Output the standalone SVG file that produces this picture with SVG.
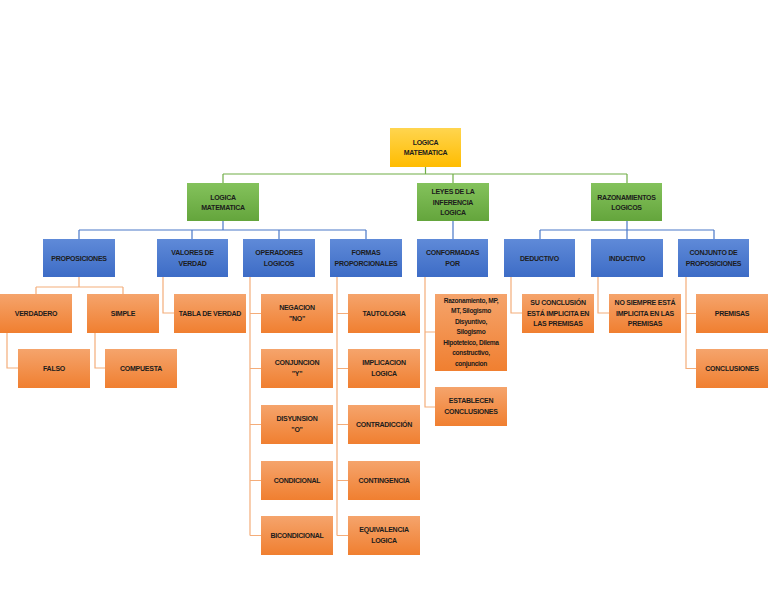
<svg xmlns="http://www.w3.org/2000/svg" width="768" height="594" viewBox="0 0 768 594">
<defs>
<linearGradient id="gGold" x1="0" y1="0" x2="0" y2="1"><stop offset="0" stop-color="#ffd54f"/><stop offset="1" stop-color="#ffbc00"/></linearGradient>
<linearGradient id="gGreen" x1="0" y1="0" x2="0" y2="1"><stop offset="0" stop-color="#84c25c"/><stop offset="1" stop-color="#64a53c"/></linearGradient>
<linearGradient id="gBlue" x1="0" y1="0" x2="0" y2="1"><stop offset="0" stop-color="#5f8ad8"/><stop offset="1" stop-color="#3d6cc6"/></linearGradient>
<linearGradient id="gOrange" x1="0" y1="0" x2="0" y2="1"><stop offset="0" stop-color="#f5a46c"/><stop offset="1" stop-color="#f07f30"/></linearGradient>
<style>
.gold{fill:url(#gGold)}
.green{fill:url(#gGreen)}
.blue{fill:url(#gBlue)}
.orange{fill:url(#gOrange)}
text{font-family:"Liberation Sans","DejaVu Sans",sans-serif;font-weight:bold;font-size:7px;fill:#1c1c1c;text-anchor:middle;letter-spacing:-0.25px}
text.sm{font-size:6.6px;letter-spacing:-0.3px}
.cg{stroke:#70ad47;stroke-width:1.2;fill:none}
.cb{stroke:#4a78c8;stroke-width:1.2;fill:none}
.co{stroke:#f4ad7a;stroke-width:1.2;fill:none}
</style>
</defs>
<rect width="768" height="594" fill="#ffffff"/>
<g id="connectors">
<path class="cg" d="M425.5 167V174M223 174H627M223 174V183M453 174V183M627 174V183"/>
<path class="cb" d="M223 221V230M79 230H366M79 230V239M192 230V239M279 230V239M366 230V239M453 221V239M627 221V230M540 230H714M540 230V239M627 230V239M714 230V239"/>
<path class="co" d="M79 277V287M36 287H123M36 287V294M123 287V294M7 333V368H18M95 333V368H105M163 277V313H174M250 277V535.5M250 313.5H261M250 368.5H261M250 424.5H261M250 480.5H261M250 535.5H261M337 277V535.5M337 313.5H348M337 368.5H348M337 424.5H348M337 480.5H348M337 535.5H348M425 277V407H435M425 332H435M511 277V313H522M598 277V313H609M686 277V368.5H696M686 313.5H696"/>
</g>
<g id="root"><rect class="gold" x="390" y="128" width="71" height="39"/><text x="425.5" y="145">LOGICA</text><text x="425.5" y="155">MATEMATICA</text></g>
<g id="logica-matematica"><rect class="green" x="187" y="183" width="72" height="38"/><text x="223" y="199.5">LOGICA</text><text x="223" y="210">MATEMATICA</text></g>
<g id="leyes"><rect class="green" x="417" y="183" width="72" height="38"/><text x="453" y="194">LEYES DE LA</text><text x="453" y="204.5">INFERENCIA</text><text x="453" y="215">LOGICA</text></g>
<g id="razonamientos"><rect class="green" x="591" y="183" width="71" height="38"/><text x="626.5" y="199.5">RAZONAMIENTOS</text><text x="626.5" y="210">LOGICOS</text></g>
<g id="proposiciones"><rect class="blue" x="43" y="239" width="72" height="38"/><text x="79" y="260.5">PROPOSICIONES</text></g>
<g id="valores"><rect class="blue" x="157" y="239" width="71" height="38"/><text x="192.5" y="255">VALORES DE</text><text x="192.5" y="265.5">VERDAD</text></g>
<g id="operadores"><rect class="blue" x="243" y="239" width="72" height="38"/><text x="279" y="255">OPERADORES</text><text x="279" y="265.5">LOGICOS</text></g>
<g id="formas"><rect class="blue" x="330" y="239" width="72" height="38"/><text x="366" y="255">FORMAS</text><text x="366" y="265.5">PROPORCIONALES</text></g>
<g id="conformadas"><rect class="blue" x="417" y="239" width="71" height="38"/><text x="452.5" y="255">CONFORMADAS</text><text x="452.5" y="265.5">POR</text></g>
<g id="deductivo"><rect class="blue" x="504" y="239" width="71" height="38"/><text x="539.5" y="260.5">DEDUCTIVO</text></g>
<g id="inductivo"><rect class="blue" x="591" y="239" width="72" height="38"/><text x="627" y="260.5">INDUCTIVO</text></g>
<g id="conjunto"><rect class="blue" x="678" y="239" width="71" height="38"/><text x="713.5" y="255">CONJUNTO DE</text><text x="713.5" y="265.5">PROPOSICIONES</text></g>
<g id="verdadero"><rect class="orange" x="0" y="294" width="72" height="39"/><text x="36" y="316">VERDADERO</text></g>
<g id="simple"><rect class="orange" x="87" y="294" width="72" height="39"/><text x="123" y="316">SIMPLE</text></g>
<g id="falso"><rect class="orange" x="18" y="349" width="72" height="39"/><text x="54" y="371">FALSO</text></g>
<g id="compuesta"><rect class="orange" x="105" y="349" width="72" height="39"/><text x="141" y="371">COMPUESTA</text></g>
<g id="tabla"><rect class="orange" x="174" y="294" width="72" height="39"/><text x="210" y="316">TABLA DE VERDAD</text></g>
<g id="negacion"><rect class="orange" x="261" y="294" width="72" height="39"/><text x="297" y="310">NEGACION</text><text x="297" y="321">"NO"</text></g>
<g id="conjuncion"><rect class="orange" x="261" y="349" width="72" height="39"/><text x="297" y="365">CONJUNCION</text><text x="297" y="376">"Y"</text></g>
<g id="disyunsion"><rect class="orange" x="261" y="405" width="72" height="39"/><text x="297" y="421">DISYUNSION</text><text x="297" y="432">"O"</text></g>
<g id="condicional"><rect class="orange" x="261" y="461" width="72" height="39"/><text x="297" y="483">CONDICIONAL</text></g>
<g id="bicondicional"><rect class="orange" x="261" y="516" width="72" height="39"/><text x="297" y="538">BICONDICIONAL</text></g>
<g id="tautologia"><rect class="orange" x="348" y="294" width="72" height="39"/><text x="384" y="316">TAUTOLOGIA</text></g>
<g id="implicacion"><rect class="orange" x="348" y="349" width="72" height="39"/><text x="384" y="365">IMPLICACION</text><text x="384" y="376">LOGICA</text></g>
<g id="contradiccion"><rect class="orange" x="348" y="405" width="72" height="39"/><text x="384" y="427">CONTRADICCIÓN</text></g>
<g id="contingencia"><rect class="orange" x="348" y="461" width="72" height="39"/><text x="384" y="483">CONTINGENCIA</text></g>
<g id="equivalencia"><rect class="orange" x="348" y="516" width="72" height="39"/><text x="384" y="532">EQUIVALENCIA</text><text x="384" y="543">LOGICA</text></g>
<g id="razonamiento"><rect class="orange" x="435" y="294" width="72" height="77"/><text class="sm" x="471" y="302.5">Razonamiento, MP,</text><text class="sm" x="471" y="313">MT, Silogismo</text><text class="sm" x="471" y="323.5">Disyuntivo,</text><text class="sm" x="471" y="334">Silogismo</text><text class="sm" x="471" y="344.5">HIpoteteico, Dilema</text><text class="sm" x="471" y="355">constructivo,</text><text class="sm" x="471" y="365.5">conjuncion</text></g>
<g id="establecen"><rect class="orange" x="435" y="387" width="72" height="39"/><text x="471" y="403">ESTABLECEN</text><text x="471" y="414">CONCLUSIONES</text></g>
<g id="su-conclusion"><rect class="orange" x="522" y="294" width="72" height="39"/><text x="558" y="305">SU CONCLUSIÓN</text><text x="558" y="315.5">ESTÁ IMPLICITA EN</text><text x="558" y="326">LAS PREMISAS</text></g>
<g id="no-siempre"><rect class="orange" x="609" y="294" width="72" height="39"/><text x="645" y="305">NO SIEMPRE ESTÁ</text><text x="645" y="315.5">IMPLICITA EN LAS</text><text x="645" y="326">PREMISAS</text></g>
<g id="premisas"><rect class="orange" x="696" y="294" width="72" height="39"/><text x="732" y="316">PREMISAS</text></g>
<g id="conclusiones"><rect class="orange" x="696" y="349" width="72" height="39"/><text x="732" y="371">CONCLUSIONES</text></g>
</svg>
